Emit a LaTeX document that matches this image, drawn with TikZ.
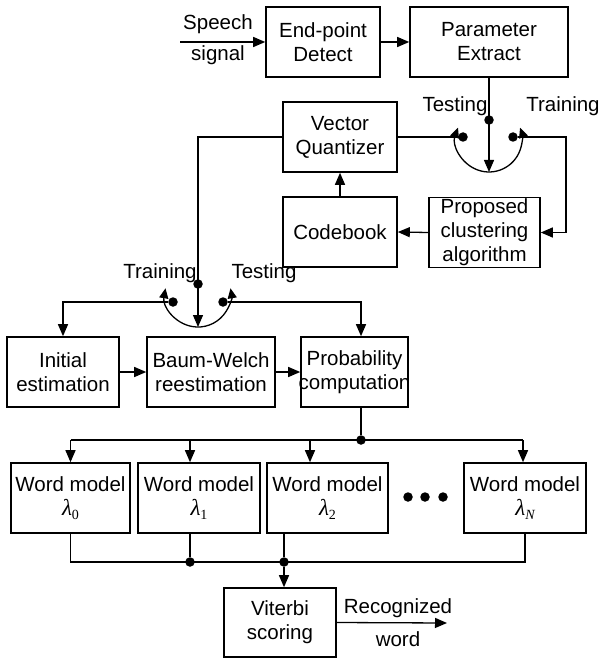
\documentclass[tikz,border=0pt]{standalone}
\usepackage{fontspec}
\setmainfont{Liberation Sans}
\newfontfamily\lamfont{Liberation Serif}
\usetikzlibrary{arrows.meta,calc}
\newcommand{\lam}[1]{{\lamfont\itshape\fontsize{23}{24}\selectfont λ\raisebox{-4pt}{\fontsize{14}{14}\selectfont #1}}}
\begin{document}
\begin{tikzpicture}[x=1pt,y=-1pt,
  font=\fontsize{20.5}{24}\selectfont,
  box/.style={draw, line width=1.6pt, inner sep=0pt, align=center, minimum height=70pt},
  conn/.style={line width=1.3pt},
  arr/.style={conn, -{Triangle[length=12pt,width=10pt]}},
  jdot/.style={circle, fill, inner sep=0pt, minimum size=9.5pt},
  lbl/.style={inner sep=0pt, align=center},
  sw/.style={conn, {Triangle[length=10pt,width=9pt]}-{Triangle[length=10pt,width=9pt]}},
]
\useasboundingbox (0,0) rectangle (605,660);

% top row
\node[box, minimum width=114pt] (ep) at (323,42) {End-point\\Detect};
\node[box, minimum width=158pt] (pe) at (489,42) {Parameter\\Extract};
\coordinate (sin) at (180,42);
\draw[arr] (sin) -- (ep.west);
\node[lbl] (lsp) at (218,24) {Speech};
\node[lbl] (lsg) at (218,55) {signal};
\draw[arr] (ep) -- (pe);

% VQ section
\node[box, minimum width=114pt] (vq) at (340,137) {Vector\\Quantizer};
\node[box, minimum width=114pt] (cb) at (340,232) {Codebook};
\node[box, minimum width=111pt] (pc) at (484.5,232.5) {Proposed\\clustering\\algorithm};

% switch 1
\coordinate (s1b) at (489,172);
\draw[arr] (pe.south) -- (s1b);
\draw[sw] (458,127.7) arc[start angle=160, end angle=380, radius=33pt];
\node[jdot] (s1t) at (489,120) {};
\node[jdot] (s1l) at (463,137) {};
\node[jdot] (s1r) at (513,137) {};
\node[lbl] (lte1) at (455,106) {Testing};
\node[lbl] (ltr1) at (563,106) {Training};
\draw[conn] (vq.east) -- (s1l);
\coordinate (k1) at (566,137);
\draw[arr] (s1r) -- (k1) |- (pc.east);
\draw[arr] (pc.west) -- (cb.east);
\draw[arr] (cb.north) -- (vq.south);

% switch 2
\coordinate (k2) at (198,137);
\coordinate (s2b) at (198,327);
\draw[arr] (vq.west) -- (k2) -- (s2b);
\draw[sw] (165.5,288.3) arc[start angle=170, end angle=370, radius=33pt];
\node[jdot] (s2t) at (198,284) {};
\node[jdot] (s2l) at (173,302) {};
\node[jdot] (s2r) at (223,302) {};
\node[lbl] (ltr2) at (160,273) {Training};
\node[lbl] (lte2) at (264,273) {Testing};

% row 2
\node[box, minimum width=112pt] (init) at (63,372) {Initial\\estimation};
\node[box, minimum width=128pt] (bw) at (211,372) {Baum-Welch\\reestimation};
\node[box, minimum width=107pt] (prob) at (354.5,372) {Probability\\\makebox[100pt]{computation}};
\draw[arr] (s2l) -| (init.north);
\draw[arr] (s2r) -| ([xshift=6.5pt]prob.north);
\draw[arr] (init) -- (bw);
\draw[arr] (bw) -- (prob);

% word models
\node[box, minimum width=119pt] (w0) at (70.5,498) {Word model\\\lam{\upshape 0}};
\node[box, minimum width=122pt] (w1) at (199,498) {Word model\\\lam{\upshape 1}};
\node[box, minimum width=121pt] (w2) at (327.5,498) {Word model\\\lam{\upshape 2}};
\node[box, minimum width=122pt] (wN) at (525,498) {Word model\\\lam{N}};
\node[jdot] (e1) at (408,497) {};
\node[jdot] (e2) at (425,497) {};
\node[jdot] (e3) at (443,497) {};

\node[jdot] (pd) at (361,440) {};
\draw[conn] ([xshift=6.5pt]prob.south) -- (pd);
\coordinate (b0) at (70.5,440);
\coordinate (b1) at (190,440);
\coordinate (b2) at (310,440);
\coordinate (bN) at (523,440);
\draw[conn] (b0) -- (bN);
\draw[arr] (b0) -- (w0.north);
\draw[arr] (b1) -- (b1 |- w1.north);
\draw[arr] (b2) -- (b2 |- w2.north);
\draw[arr] (bN) -- (bN |- wN.north);

% bottom
\node[box, minimum width=112pt, minimum height=69pt] (vit) at (280,622.5) {Viterbi\\scoring};
\coordinate (c0) at (70.5,562);
\coordinate (cN) at (525,562);
\node[jdot] (c1) at (190,562) {};
\node[jdot] (c2) at (284,562) {};
\draw[conn] (w0.south) -- (c0) -- (cN) -- (wN.south);
\draw[conn] (c1 |- w1.south) -- (c1);
\draw[conn] (c2 |- w2.south) -- (c2);
\draw[arr] (c2) -- (c2 |- vit.north);
\coordinate (out) at (447,623);
\draw[arr] (vit.east) -- (out);
\node[lbl] (lrec) at (398,608) {Recognized};
\node[lbl] (lwd) at (398,639) {word};
\end{tikzpicture}
\end{document}
